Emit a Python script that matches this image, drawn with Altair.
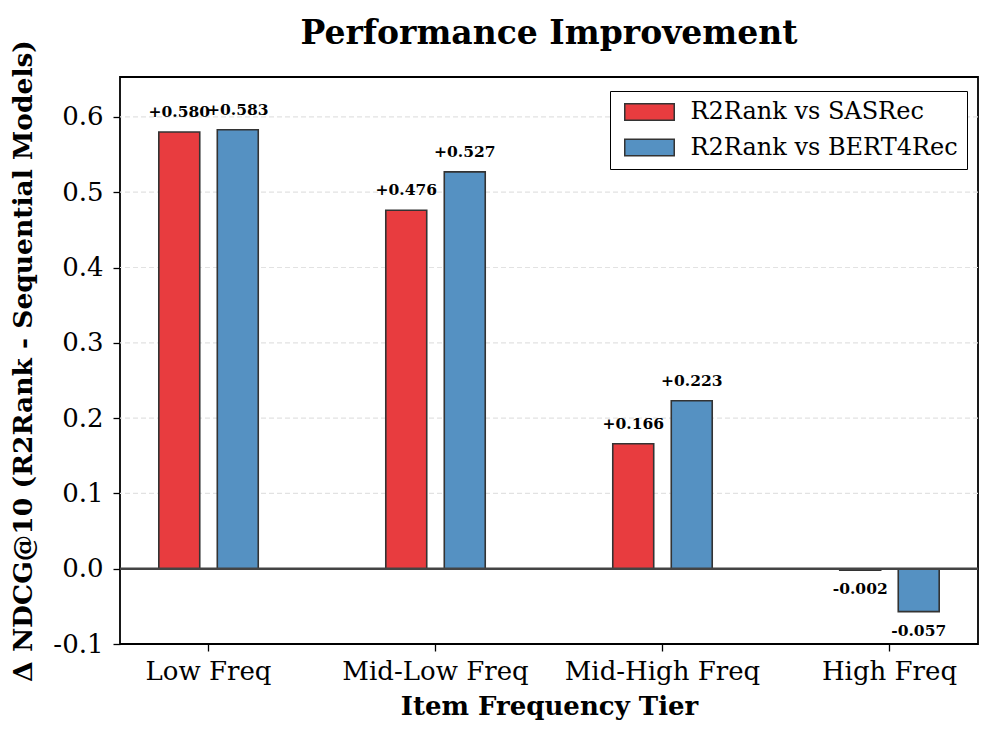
import altair as alt
import pandas as pd

tiers = ["Low Freq", "Mid-Low Freq", "Mid-High Freq", "High Freq"]
series = ["R2Rank vs SASRec", "R2Rank vs BERT4Rec"]
sasrec = [0.580, 0.476, 0.166, -0.002]
bert4rec = [0.583, 0.527, 0.223, -0.057]
colors = ["#E83C3F", "#5591C2"]
y_ticks = [-0.1, 0.0, 0.1, 0.2, 0.3, 0.4, 0.5, 0.6]
grid_vals = [0.0, 0.1, 0.2, 0.3, 0.4, 0.5, 0.6]

rows = []
for i, t in enumerate(tiers):
    for s, vals in zip(series, [sasrec, bert4rec]):
        v = vals[i]
        rows.append({"tier": t, "series": s, "value": v, "label": f"{v:+.3f}"})
df = pd.DataFrame(rows)

FONT = "DejaVu Serif"

x = alt.X("tier:N", sort=tiers, title="Item Frequency Tier",
          scale=alt.Scale(paddingInner=0.5, paddingOuter=0.14),
          axis=alt.Axis(labelAngle=0, labelFontSize=26, titleFontSize=26, titleFontWeight="bold",
                        tickSize=7, tickColor="black", tickWidth=1.3, domain=False, labelPadding=7,
                        titlePadding=9, labelColor="black", titleColor="black", labelLimit=400))
xo = alt.XOffset("series:N", sort=series,
                 scale=alt.Scale(paddingInner=0.3, paddingOuter=0.12))
yscale = alt.Scale(domain=[-0.1, 0.653], nice=False, zero=False)

grid = alt.Chart(pd.DataFrame({"g": grid_vals})).mark_rule(
    color="#e2e2e2", strokeWidth=1.2, strokeDash=[5, 3]
).encode(y=alt.Y("g:Q", scale=yscale))

bars = alt.Chart(df).mark_bar(stroke="#333333", strokeWidth=1.6, opacity=1).encode(
    x=x, xOffset=xo,
    y=alt.Y("value:Q", scale=yscale, title="Δ NDCG@10 (R2Rank - Sequential Models)",
            axis=alt.Axis(values=y_ticks,
                          labelExpr="replace(format(datum.value, '.1f'), '\u2212', '-')",
                          labelFontSize=26, titleFontSize=26.5, titleFontWeight="bold",
                          tickSize=7, tickColor="black", tickWidth=1.3, domain=False,
                          grid=False, labelPadding=10, titlePadding=15,
                          labelColor="black", titleColor="black")),
    y2=alt.datum(0),
    color=alt.Color("series:N", sort=series, scale=alt.Scale(domain=series, range=colors),
                    legend=alt.Legend(title=None, orient="none", legendX=490, legendY=14,
                                      labelFontSize=24, labelFont=FONT, labelColor="black",
                                      labelLimit=400,
                                      symbolType="M-3,-1H3V1H-3Z", symbolSize=272,
                                      symbolStrokeColor="#333333", symbolStrokeWidth=1.5,
                                      symbolOpacity=1, symbolOffset=18.5,
                                      strokeColor="black", padding=9, rowPadding=11.5,
                                      labelOffset=29, fillColor="white", cornerRadius=0)),
)

pos = alt.Chart(df).transform_filter("datum.value >= 0").mark_text(
    baseline="alphabetic", dy=-15, fontSize=15.5, fontWeight="bold", font=FONT, color="black"
).encode(x=x, xOffset=xo, y=alt.Y("value:Q", scale=yscale), text="label:N")

neg = alt.Chart(df).transform_filter("datum.value < 0").mark_text(
    baseline="alphabetic", dy=24, fontSize=15.5, fontWeight="bold", font=FONT, color="black"
).encode(x=x, xOffset=xo, y=alt.Y("value:Q", scale=yscale), text="label:N")

zero = alt.Chart(pd.DataFrame({"y": [0.0]})).mark_rule(color="#444444", strokeWidth=2.4).encode(
    y=alt.Y("y:Q", scale=yscale))

chart = alt.layer(grid, bars, zero, pos, neg).properties(
    width=858, height=567,
    title=alt.TitleParams("Performance Improvement", fontSize=33, fontWeight="bold", font=FONT,
                          color="black", offset=-37, baseline="alphabetic"),
    padding={"left": 112, "top": 69, "right": 10, "bottom": 80},
    autosize=alt.AutoSizeParams(type="none"),
).configure(font=FONT).configure_axis(labelFont=FONT, titleFont=FONT).configure_view(
    stroke="black", strokeWidth=1.8)

chart.save("out.html", embed_options={"renderer": "svg", "actions": False})
